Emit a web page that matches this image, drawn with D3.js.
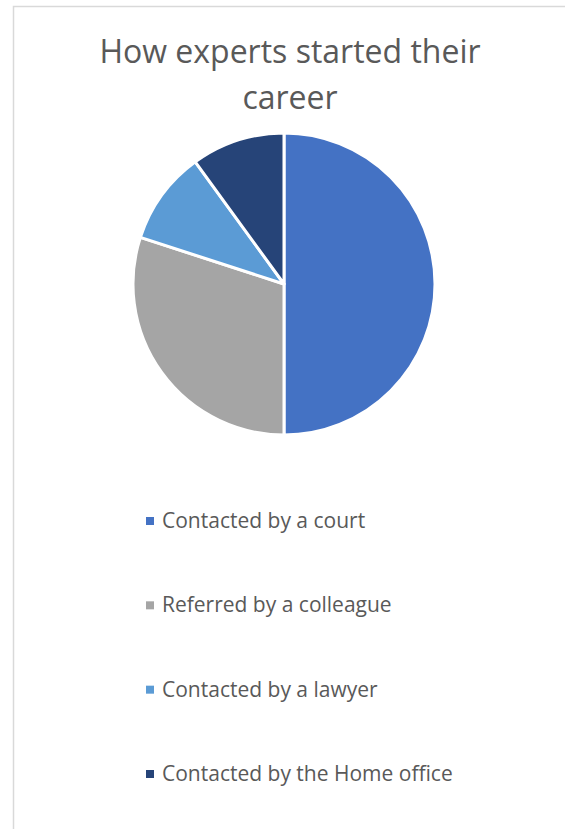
<!DOCTYPE html>
<html>
<head>
<meta charset="utf-8">
<script src="https://cdn.jsdelivr.net/npm/d3@7"></script>
<style>
  body { margin: 0; background: #fff; }
  svg { display: block; }
</style>
</head>
<body>
<div id="chart"></div>
<script>
// --- Datos ---
const categories = ["Contacted by a court", "Referred by a colleague", "Contacted by a lawyer", "Contacted by the Home office"];
const values = [50, 30, 10, 10];
const colors = ["#4472C4", "#A5A5A5", "#5B9BD5", "#264478"];
const titleLines = ["How experts started their", "career"];

const width = 565, height = 829;
const font = "'Open Sans', 'Noto Sans', sans-serif";

const svg = d3.select("#chart").append("svg")
    .attr("width", width)
    .attr("height", height);

// --- Borde del gráfico ---
svg.append("path")
    .attr("d", `M13.5,${height} V6.5 H${width}`)
    .attr("fill", "none")
    .attr("stroke", "#d9d9d9")
    .attr("stroke-width", 1.5);

// --- Título ---
svg.append("g")
    .selectAll("text")
    .data(titleLines)
    .join("text")
    .attr("x", 290)
    .attr("y", (d, i) => 63 + i * 46)
    .attr("text-anchor", "middle")
    .attr("font-family", font)
    .attr("font-size", 32)
    .attr("fill", "#595959")
    .text(d => d);

// --- Pastel ---
const radius = 151;
const pie = d3.pie().sort(null).value(d => d.value);
const arc = d3.arc().innerRadius(0).outerRadius(radius);
const data = categories.map((c, i) => ({ name: c, value: values[i] }));
const color = d3.scaleOrdinal().domain(categories).range(colors);

svg.append("g")
    .attr("transform", "translate(284,284)")
    .selectAll("path")
    .data(pie(data))
    .join("path")
    .attr("d", arc)
    .attr("fill", d => color(d.data.name))
    .attr("stroke", "#fff")
    .attr("stroke-width", 3)
    .attr("stroke-linejoin", "round");

// --- Leyenda ---
const legendY = d3.scalePoint().domain(categories).range([528, 781]);
const legend = svg.append("g")
    .selectAll("g")
    .data(categories)
    .join("g")
    .attr("transform", d => `translate(146,${legendY(d)})`);

legend.append("rect")
    .attr("x", 0)
    .attr("y", -11)
    .attr("width", 8)
    .attr("height", 8)
    .attr("fill", d => color(d));

legend.append("text")
    .attr("x", 16)
    .attr("y", 0)
    .attr("font-family", font)
    .attr("font-size", 21)
    .attr("fill", "#595959")
    .text(d => d);
</script>
</body>
</html>
